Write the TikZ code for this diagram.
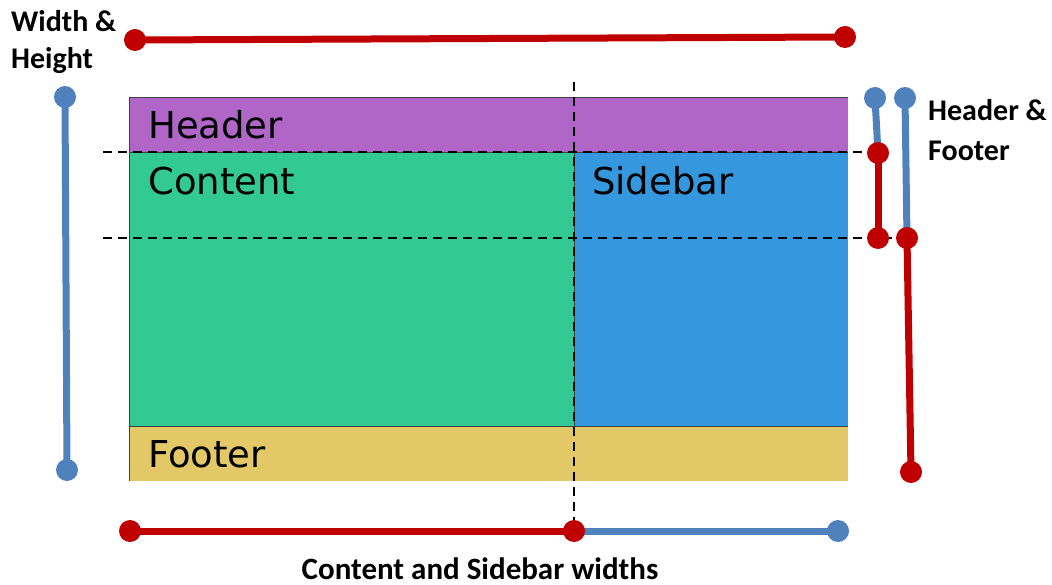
\documentclass[tikz,border=0pt]{standalone}
\usepackage{fontspec}
\setmainfont{DejaVu Sans}
\newfontfamily\calibri{Carlito}
\usepackage{tikz}

\definecolor{capcol}{HTML}{B066C6}
\definecolor{contcol}{HTML}{33C995}
\definecolor{sidecol}{HTML}{3598DF}
\definecolor{peucol}{HTML}{E2C866}
\definecolor{cotared}{HTML}{C00000}
\definecolor{cotablue}{HTML}{4F81BD}

\begin{document}
\begin{tikzpicture}[x=1pt, y=-1pt,
    etiq/.style={inner sep=0pt, anchor=base west, font=\fontsize{37}{40}\selectfont},
    rotul/.style={inner sep=0pt, align=left, font=\calibri\bfseries\fontsize{30}{37}\selectfont},
    cotar/.style={line width=7pt, cotared},
    cotab/.style={line width=7pt, cotablue},
    guia/.style={line width=1.6pt, dash pattern=on 9pt off 6pt}]

\useasboundingbox (0,0) rectangle (1052,585);

% Caixes
\fill[capcol] (129,98) rectangle (848,153);
\fill[contcol] (129,153) rectangle (574,426);
\fill[sidecol] (574,153) rectangle (848,426);
\fill[peucol] (129,426) rectangle (848,481);
\draw[black!75, line width=1pt]
    (848,98) -- (129,98) -- (129,481)
    (129,153) -- (848,153)
    (129,426) -- (848,426)
    (574,153) -- (574,426);

% Textos de les caixes
\node[etiq] (header) at (148,139) {Header};
\node[etiq] (content) at (148,195) {Content};
\node[etiq] (sidebar) at (592,195) {Sidebar};
\node[etiq] (footer) at (148,467) {Footer};

% Guies
\coordinate (ga1) at (103,152);
\coordinate (ga2) at (872,152);
\coordinate (gb1) at (103,238);
\coordinate (gb2) at (905,238);
\coordinate (gv1) at (574,82);
\coordinate (gv2) at (574,526);
\draw[guia] (ga1) -- (ga2);
\draw[guia] (gb1) -- (gb2);
\draw[guia] (gv1) -- (gv2);

% Punts de les cotes
\coordinate (wa) at (135,40);
\coordinate (wb) at (845,37);
\coordinate (ha) at (65,97);
\coordinate (hb) at (67,470);
\coordinate (fa) at (875,98);
\coordinate (fb) at (878,153);
\coordinate (fc) at (878,238);
\coordinate (fd) at (905,98);
\coordinate (fe) at (907,238);
\coordinate (ff) at (911,472);
\coordinate (ca) at (130,531);
\coordinate (cb) at (574,531);
\coordinate (cc) at (838,531);

% Cotes
\draw[cotar] (wa) -- (wb);
\draw[cotab] (ha) -- (hb);
\draw[cotab] (fa) -- (fb);
\draw[cotab] (fd) -- (fe);
\draw[cotar] (fb) -- (fc);
\draw[cotar] (fe) -- (ff);
\draw[cotab] (cb) -- (cc);
\draw[cotar] (ca) -- (cb);

\foreach \p in {ha,hb,fa,fd,cc}
    \fill[cotablue] (\p) circle (11);
\foreach \p in {wa,wb,fb,fc,fe,ff,ca,cb}
    \fill[cotared] (\p) circle (11);

% Rotuls
\node[rotul, anchor=north west] (wh) at (11,10) {Width \&\\Height};
\node[rotul, anchor=north west] (hf) at (928,99) {Header \&\\[3pt]Footer};
\node[rotul, anchor=base, font=\calibri\bfseries\fontsize{31}{37}\selectfont]
    (cs) at (480,579) {Content and Sidebar widths};

\end{tikzpicture}
\end{document}
